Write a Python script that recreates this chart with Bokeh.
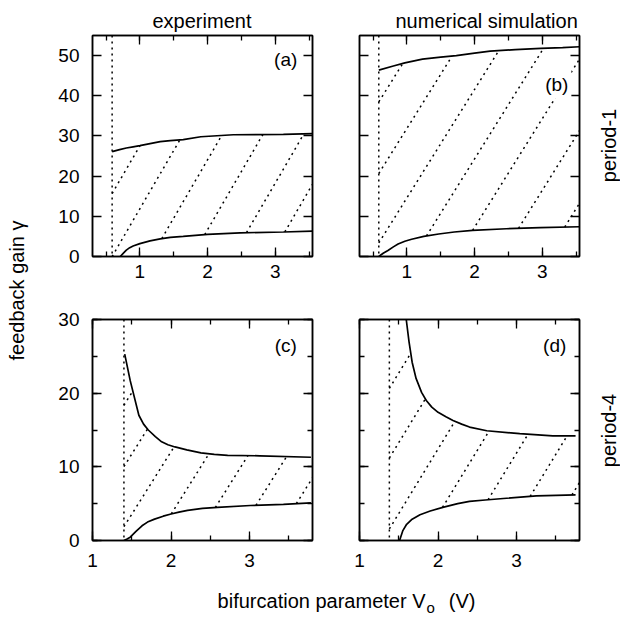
import numpy as np
from bokeh.plotting import figure
from bokeh.layouts import row, column
from bokeh.models import (Range1d, SingleIntervalTicker, LinearAxis, Label, Span,
                          CustomJSTickFormatter)
from bokeh.embed import file_html
from bokeh.resources import INLINE
from bokeh.core.properties import value

FONT = "Liberation Sans"

# ---------------- data ----------------
# (a) experiment, period-1
a_onset = 0.59
a_upper_v = [0.59, 0.70, 0.80, 0.90, 1.00, 1.15, 1.30, 1.45, 1.64, 1.90, 2.38, 3.12, 3.55]
a_upper_g = [26.1, 26.6, 27.0, 27.3, 27.6, 28.1, 28.6, 28.85, 29.1, 29.8, 30.3, 30.4, 30.6]
a_lower_v = [0.71, 0.76, 0.80, 0.85, 0.90, 1.00, 1.15, 1.30, 1.45, 1.64, 2.00, 2.48, 3.12, 3.55]
a_lower_g = [0.0, 0.9, 1.6, 2.2, 2.6, 3.2, 3.9, 4.4, 4.75, 5.0, 5.5, 5.9, 6.1, 6.3]
a_hatch_slope = 29.0
a_hatch_x0 = [0.05, 0.59, 1.17, 1.77, 2.37, 2.93]

# (b) numerical simulation, period-1
b_onset = 0.585
b_upper_v = [0.585, 0.80, 0.97, 1.23, 1.50, 1.73, 2.00, 2.23, 2.60, 2.98, 3.30, 3.55]
b_upper_g = [46.4, 47.4, 48.2, 49.1, 49.6, 50.0, 50.6, 51.1, 51.5, 51.8, 52.0, 52.2]
b_lower_v = [0.585, 0.65, 0.72, 0.80, 0.87, 0.97, 1.07, 1.25, 1.47, 1.70, 1.97, 2.47, 2.97, 3.55]
b_lower_g = [0.0, 0.8, 1.5, 2.4, 3.1, 3.8, 4.3, 5.0, 5.6, 6.1, 6.5, 6.9, 7.2, 7.4]
b_hatch_slope = 27.0
b_hatch_x0 = [-0.84, -0.18, 0.46, 1.10, 1.73, 2.39, 3.06]

# (c) experiment, period-4
c_onset = 1.40
c_upper_v = [1.41, 1.48, 1.59, 1.65, 1.71, 1.80, 1.88, 1.96, 2.05, 2.20, 2.38, 2.55, 2.72, 3.13, 3.78]
c_upper_g = [25.3, 21.7, 17.0, 15.8, 15.0, 14.1, 13.4, 13.0, 12.7, 12.3, 11.9, 11.7, 11.55, 11.5, 11.3]
c_lower_v = [1.40, 1.44, 1.48, 1.55, 1.63, 1.70, 1.79, 1.90, 2.00, 2.10, 2.21, 2.40, 2.59, 3.01, 3.43, 3.78]
c_lower_g = [0.0, 0.2, 0.45, 1.2, 2.0, 2.5, 2.9, 3.3, 3.6, 3.85, 4.1, 4.35, 4.5, 4.75, 4.9, 5.1]
c_hatch_slope = 17.0
c_hatch_x0 = [0.32, 0.81, 1.29, 1.79, 2.30, 2.80, 3.30]

# (d) numerical simulation, period-4
d_onset = 1.38
d_upper_v = [1.595, 1.63, 1.67, 1.72, 1.79, 1.85, 1.92, 2.00, 2.10, 2.19, 2.30, 2.40,
             2.62, 3.04, 3.46, 3.75]
d_upper_g = [30.0, 27.0, 24.2, 22.0, 20.1, 19.0, 18.1, 17.4, 16.8, 16.3, 15.8, 15.4,
             14.9, 14.5, 14.2, 14.2]
d_lower_v = [1.51, 1.55, 1.60, 1.67, 1.77, 1.90, 2.06, 2.25, 2.40, 2.60, 2.83, 3.25, 3.75]
d_lower_g = [0.0, 1.3, 2.2, 2.9, 3.5, 4.0, 4.5, 5.0, 5.3, 5.5, 5.7, 6.05, 6.2]
d_hatch_slope = 17.5
d_hatch_x0 = [0.20, 0.74, 1.29, 1.80, 2.32, 2.83, 3.35]

top_xrange = (0.3, 3.55)
top_yrange = (0, 55)
bot_xrange = (1.0, 3.8)
bot_yrange = (0, 30)

TICK_FS = "19px"
TEXT_FS = "20px"
DOTS = "2 4"


def hatch_segments(slope, x0s, onset, lo_v, lo_g, up_v, up_g, xr, ytop):
    """Clip a family of parallel lines to the stable region between the curves."""
    grid = np.linspace(onset, xr[1], 4000)
    lo = np.interp(grid, lo_v, lo_g, left=0.0)
    up = np.interp(grid, up_v, up_g)
    xs, ys = [], []
    for x0 in x0s:
        y = slope * (grid - x0)
        inside = (y >= lo) & (y <= up) & (y >= 0) & (y <= ytop)
        idx = np.flatnonzero(inside)
        if idx.size < 2:
            continue
        brk = np.where(np.diff(idx) > 1)[0]
        starts = np.r_[idx[0], idx[brk + 1]]
        ends = np.r_[idx[brk], idx[-1]]
        for s, e in zip(starts, ends):
            if e > s:
                xs.append([grid[s], grid[e]])
                ys.append([y[s], y[e]])
    return xs, ys


def make_axis(ticker, labelled, standoff, minor):
    ax = LinearAxis(ticker=ticker,
                    major_tick_in=9, major_tick_out=0,
                    minor_tick_in=5, minor_tick_out=0,
                    axis_line_color="black", axis_line_width=1.5,
                    major_tick_line_color="black", major_tick_line_width=1.3,
                    minor_tick_line_color="black" if minor else None,
                    minor_tick_line_width=1.3)
    if labelled:
        ax.major_label_text_font = FONT
        ax.major_label_text_font_size = TICK_FS
        ax.major_label_text_color = "black"
        ax.major_label_standoff = standoff
    else:
        ax.formatter = CustomJSTickFormatter(code="return ''")
        ax.major_label_text_font_size = "0px"
        ax.major_label_standoff = 0
    return ax


def panel(width, height, borders, xr, yr, ystep_minor, show_ylabels, xstandoff,
          onset, lo_v, lo_g, up_v, up_g, slope, x0s, tag, tag_xy, title=None, title_offset=0):
    bl, br, bt, bb = borders
    p = figure(width=width, height=height, x_range=Range1d(*xr), y_range=Range1d(*yr),
               output_backend="svg", toolbar_location=None,
               x_axis_location=None, y_axis_location=None,
               min_border_left=bl, min_border_right=br,
               min_border_top=bt, min_border_bottom=bb,
               outline_line_color="black", outline_line_width=1.5)
    p.grid.visible = False
    if title:
        p.title.text = title
        p.title.align = "left"
        p.title.offset = title_offset
        p.title.text_font = FONT
        p.title.text_font_size = TEXT_FS
        p.title.text_font_style = "normal"
        p.title.text_color = "black"
        p.title.standoff = 8

    xt = SingleIntervalTicker(interval=1, num_minor_ticks=2)
    yt = SingleIntervalTicker(interval=10, num_minor_ticks=2 if ystep_minor else 0)
    p.add_layout(make_axis(xt, True, xstandoff, True), "below")
    p.add_layout(make_axis(xt, False, 0, True), "above")
    p.add_layout(make_axis(yt, show_ylabels, 13, ystep_minor), "left")
    p.add_layout(make_axis(yt, False, 0, ystep_minor), "right")

    # stable-control region: hatching, onset line, boundaries
    hx, hy = hatch_segments(slope, x0s, onset, lo_v, lo_g, up_v, up_g, xr, yr[1])
    p.multi_line(hx, hy, line_color="black", line_width=1.5, line_dash=DOTS)
    p.add_layout(Span(location=onset, dimension="height", line_color="black",
                      line_width=1.5, line_dash=DOTS))
    p.line(up_v, up_g, line_color="black", line_width=1.7)
    p.line(lo_v, lo_g, line_color="black", line_width=1.7)

    p.add_layout(Label(x=tag_xy[0], y=tag_xy[1], text=tag, text_align="right",
                       text_baseline="middle", text_font=FONT, text_font_size=TICK_FS,
                       text_color="black", background_fill_color="white", padding=3))
    return p


# pixel layout of the grid
LEFT_W, RIGHT_W = 30, 35
A_W, B_W = 305, 250
ROW1_H, ROW2_H, XT_H = 296, 279, 43
FULL_H = ROW1_H + ROW2_H + XT_H

pa = panel(A_W, ROW1_H, (62, 23, 35, 40), top_xrange, top_yrange, False, True, 8,
           a_onset, a_lower_v, a_lower_g, a_upper_v, a_upper_g, a_hatch_slope, a_hatch_x0,
           "(a)", (3.37, 49.0), title="experiment", title_offset=60)
pb = panel(B_W, ROW1_H, (24, 6, 35, 40), top_xrange, top_yrange, False, False, 8,
           b_onset, b_lower_v, b_lower_g, b_upper_v, b_upper_g, b_hatch_slope, b_hatch_x0,
           "(b)", (3.43, 42.8), title="numerical simulation", title_offset=36)
pc = panel(A_W, ROW2_H, (62, 23, 23, 35), bot_xrange, bot_yrange, True, True, 13,
           c_onset, c_lower_v, c_lower_g, c_upper_v, c_upper_g, c_hatch_slope, c_hatch_x0,
           "(c)", (3.64, 26.5))
pd = panel(B_W, ROW2_H, (24, 6, 23, 35), bot_xrange, bot_yrange, True, False, 13,
           d_onset, d_lower_v, d_lower_g, d_upper_v, d_upper_g, d_hatch_slope, d_hatch_x0,
           "(d)", (3.67, 26.5))


def strip(width, height):
    s = figure(width=width, height=height, x_range=Range1d(0, width), y_range=Range1d(0, height),
               output_backend="svg", toolbar_location=None,
               x_axis_location=None, y_axis_location=None,
               min_border=0, outline_line_color=None)
    s.grid.visible = False
    return s


text_style = dict(text_font=value(FONT), text_font_size=TEXT_FS, text_color="black")

# y-axis title
ys = strip(LEFT_W, FULL_H)
ys.text(x=[16], y=[FULL_H - 290], text=["feedback gain \u03b3"], angle=np.pi / 2,
        text_align="center", text_baseline="middle", **text_style)

# row titles
rs = strip(RIGHT_W, FULL_H)
rs.text(x=[23, 23], y=[FULL_H - 145, FULL_H - 430], text=["period-1", "period-4"],
        angle=np.pi / 2, text_align="center", text_baseline="middle", **text_style)

# x-axis title with subscript
xs = strip(A_W + B_W, XT_H)
xs.text(x=[395], y=[18], text=["bifurcation parameter V"], text_align="right",
        text_baseline="middle", **text_style)
xs.text(x=[396], y=[11], text=["o"], text_align="left", text_baseline="middle",
        text_font=value(FONT), text_font_size="15px", text_color="black")
xs.text(x=[445], y=[18], text=["(V)"], text_align="right", text_baseline="middle", **text_style)

page = row(ys, column(row(pa, pb), row(pc, pd), xs), rs)

with open("out.html", "w") as f:
    f.write(file_html(page, INLINE))
